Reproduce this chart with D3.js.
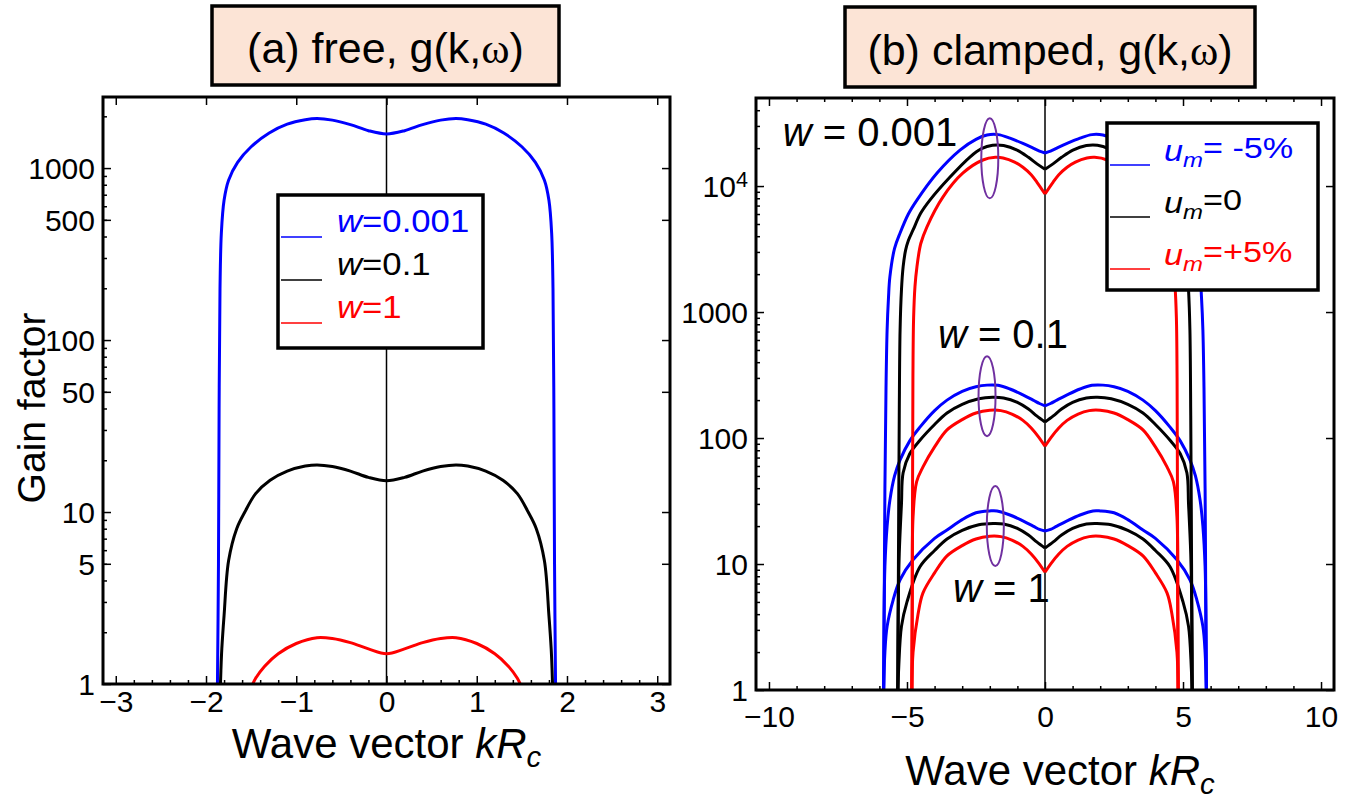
<!DOCTYPE html>
<html><head><meta charset="utf-8">
<script src="https://cdn.jsdelivr.net/npm/d3@7"></script>
<style>
body{margin:0;background:#fff}
svg{display:block}
text{font-family:"Liberation Sans",Arial,sans-serif;fill:#000}
</style>
</head><body>
<svg id="chart" width="1364" height="803"></svg>
<script>
// ---------------- DATA ----------------
// Panel (a) free: wave vector k and gain g for each w
const freeK_w0001 = [-1.875,-1.862,-1.855,-1.845,-1.83,-1.8,-1.75,-1.65,-1.5,-1.3,-1.1,-0.9,-0.77,-0.6,-0.4,-0.2,0,0.2,0.4,0.6,0.77,0.9,1.1,1.3,1.5,1.65,1.75,1.8,1.83,1.845,1.855,1.862,1.875];
const freeG_w0001 = [0.8,5,40,200,420,650,850,1080,1330,1600,1800,1910,1940,1900,1790,1650,1580,1650,1790,1900,1940,1910,1800,1600,1330,1080,850,650,420,200,40,5,0.8];
const freeK_w01 = [-1.845,-1.835,-1.825,-1.8,-1.75,-1.66,-1.57,-1.45,-1.29,-1.1,-0.9,-0.77,-0.6,-0.4,-0.2,0,0.2,0.4,0.6,0.77,0.9,1.1,1.29,1.45,1.57,1.66,1.75,1.8,1.825,1.835,1.845];
const freeG_w01 = [0.8,1.2,1.6,2.5,5.2,8,10,12.8,15.3,17.3,18.5,18.8,18.4,17.3,15.9,15.2,15.9,17.3,18.4,18.8,18.5,17.3,15.3,12.8,10,8,5.2,2.5,1.6,1.2,0.8];
const freeK_w1 = [-1.52,-1.45,-1.35,-1.2,-1.0,-0.77,-0.6,-0.4,-0.2,0,0.2,0.4,0.6,0.77,1.0,1.2,1.35,1.45,1.52];
const freeG_w1 = [0.9,1.08,1.27,1.5,1.72,1.86,1.84,1.74,1.6,1.5,1.6,1.74,1.84,1.86,1.72,1.5,1.27,1.08,0.9];
const freeLegend = ["0.001","0.1","1"];

// Panel (b) clamped: w = 0.001 family
const clK_w0001_m = [-5.85,-5.83,-5.8,-5.76,-5.72,-5.67,-5.62,-5.45,-5.25,-4.95,-4.64,-3.91,-3.08,-2.5,-2.1,-1.7,-1.27,-0.8,-0.43,-0.2,0,0.2,0.43,0.8,1.27,1.7,2.1,2.5,3.08,3.91,4.64,4.95,5.25,5.45,5.62,5.67,5.72,5.76,5.8,5.83,5.85];
const clG_w0001_m = [0.8,3,40,250,720,1300,1900,3200,4240,6000,7740,12700,19300,23500,25400,25600,24000,21800,20000,18900,18300,18900,20000,21800,24000,25600,25400,23500,19300,12700,7740,6000,4240,3200,1900,1300,720,250,40,3,0.8];
const clK_w0001_0 = [-5.33,-5.31,-5.28,-5.25,-5.2,-5.14,-5.05,-4.95,-4.78,-4.5,-4.17,-3.44,-2.72,-2.3,-1.9,-1.5,-1.01,-0.6,-0.29,0,0.29,0.6,1.01,1.5,1.9,2.3,2.72,3.44,4.17,4.5,4.78,4.95,5.05,5.14,5.2,5.25,5.28,5.31,5.33];
const clG_w0001_0 = [0.8,10,150,720,1500,2280,3100,3700,4480,6100,7740,11800,17000,19800,21100,21000,19300,16900,15000,13600,15000,16900,19300,21000,21100,19800,17000,11800,7740,6100,4480,3700,3100,2280,1500,720,150,10,0.8];
const clK_w0001_p = [-4.82,-4.8,-4.785,-4.76,-4.71,-4.64,-4.5,-4.28,-3.7,-2.97,-2.25,-1.8,-1.52,-1.1,-0.8,-0.5,-0.29,0,0.29,0.5,0.8,1.1,1.52,1.8,2.25,2.97,3.7,4.28,4.5,4.64,4.71,4.76,4.785,4.8,4.82];
const clG_w0001_p = [0.8,30,300,900,1600,2280,3500,4730,8180,12700,16100,16900,16700,15500,14100,12300,10700,8650,10700,12300,14100,15500,16700,16900,16100,12700,8180,4730,3500,2280,1600,900,300,30,0.8];
// w = 0.1 family
const clK_w01_m = [-5.85,-5.83,-5.8,-5.72,-5.62,-5.45,-5.25,-4.9,-4.53,-4.0,-3.55,-3.0,-2.5,-2.1,-1.7,-1.27,-0.8,-0.43,-0.2,0,0.2,0.43,0.8,1.27,1.7,2.1,2.5,3.0,3.55,4.0,4.53,4.9,5.25,5.45,5.62,5.72,5.8,5.83,5.85];
const clG_w01_m = [0.8,4,9.5,20,32,50,67,95,122,165,200,235,255,263,262,245,220,200,188,180,188,200,220,245,262,263,255,235,200,165,122,95,67,50,32,20,9.5,4,0.8];
const clK_w01_0 = [-5.34,-5.32,-5.28,-5.2,-5.14,-4.9,-4.53,-4.0,-3.55,-3.0,-2.4,-1.9,-1.5,-1.0,-0.6,-0.3,0,0.3,0.6,1.0,1.5,1.9,2.4,3.0,3.55,4.0,4.53,4.9,5.14,5.2,5.28,5.32,5.34];
const clG_w01_0 = [0.8,4,12,30,53,75,96,128,158,185,205,211,208,192,170,150,134,150,170,192,208,211,205,185,158,128,96,75,53,30,12,4,0.8];
const clK_w01_p = [-4.83,-4.81,-4.78,-4.65,-4.42,-4.0,-3.55,-3.0,-2.5,-2.0,-1.6,-1.2,-0.8,-0.5,-0.25,0,0.25,0.5,0.8,1.2,1.6,2.0,2.5,3.0,3.55,4.0,4.42,4.65,4.78,4.81,4.83];
const clG_w01_p = [0.8,5,23.6,45,59,85,116,140,158,166,165,155,138,120,103,86,103,120,138,155,165,166,158,140,116,85,59,45,23.6,5,0.8];
// w = 1 family
const clK_w1_m = [-5.85,-5.8,-5.72,-5.5,-5.25,-4.78,-4.0,-3.55,-3.0,-2.5,-2.0,-1.74,-1.27,-0.8,-0.43,-0.2,0,0.2,0.43,0.8,1.27,1.74,2.0,2.5,3.0,3.55,4.0,4.78,5.25,5.5,5.72,5.8,5.85];
const clG_w1_m = [0.8,2,3.2,5.2,7.5,10.8,16,18.6,22.5,25.5,26.4,26.4,24.5,22,20,18.8,18.3,18.8,20,22,24.5,26.4,26.4,25.5,22.5,18.6,16,10.8,7.5,5.2,3.2,2,0.8];
const clK_w1_0 = [-5.34,-5.3,-5.2,-5.0,-4.53,-4.0,-3.55,-3.0,-2.4,-1.88,-1.5,-1.0,-0.6,-0.3,0,0.3,0.6,1.0,1.5,1.88,2.4,3.0,3.55,4.0,4.53,5.0,5.2,5.3,5.34];
const clG_w1_0 = [0.8,1.5,3.2,5,9.5,12.8,15.8,18.5,20.5,21,20.8,19.2,17,15,13.4,15,17,19.2,20.8,21,20.5,18.5,15.8,12.8,9.5,5,3.2,1.5,0.8];
const clK_w1_p = [-4.83,-4.78,-4.6,-4.42,-4.0,-3.55,-3.0,-2.5,-2.0,-1.6,-1.2,-0.8,-0.5,-0.25,0,0.25,0.5,0.8,1.2,1.6,2.0,2.5,3.0,3.55,4.0,4.42,4.6,4.78,4.83];
const clG_w1_p = [0.8,2,4,5.9,8.5,11.6,14,15.8,16.6,16.5,15.5,13.8,12,10.3,8.6,10.3,12,13.8,15.5,16.5,16.6,15.8,14,11.6,8.5,5.9,4,2,0.8];
const clampedLegend = ["= -5%","=0","=+5%"];
// annotation anchors (k, g)
const wLabels = [{t:" = 0.001",k:-9.5,g:20800},{t:" = 0.1",k:-3.88,g:518},{t:" = 1",k:-3.33,g:5.0}];
const ellipses = [{k:-2.0,g:16600},{k:-2.1,g:215},{k:-1.8,g:20}];

// ticks
const freeXTicks = [-3,-2,-1,0,1,2,3];
const freeYTicks = [1,5,10,50,100,500,1000];
const clXTicks = [-10,-5,0,5,10];
const clYTicks = [1,10,100,1000,10000];

// ---------------- DRAW ----------------
const svg = d3.select("#chart");
const BLUE="#0000ff", RED="#ff0000", BLK="#000000";
const FONT="Liberation Sans, Arial, sans-serif";

function minorLog(max){const a=[];for(let d=1;d<=max;d*=10){for(let m=2;m<=9;m++){if(d*m<max)a.push(d*m);}}return a;}

function panel(o){
  const g = svg.append("g");
  const x = d3.scaleLinear().domain(o.xdom).range([o.x0,o.x1]);
  const y = d3.scaleLog().domain(o.ydom).range([o.y1,o.y0]);
  const clipId = "clip"+o.id;
  svg.append("clipPath").attr("id",clipId).append("rect")
    .attr("x",o.x0).attr("y",o.y0).attr("width",o.x1-o.x0).attr("height",o.y1-o.y0);

  g.append("line").attr("x1",x(0)).attr("x2",x(0)).attr("y1",o.y0).attr("y2",o.y1)
    .attr("stroke","#000").attr("stroke-width",1.5);

  const plot = g.append("g").attr("clip-path",`url(#${clipId})`);
  const line = d3.line().x(d=>x(d[0])).y(d=>y(d[1])).curve(d3.curveCatmullRom.alpha(0.5));
  o.series.forEach(s=>{
    const pts = s.k.map((k,i)=>[k,s.g[i]]);
    const parts = o.split ? [pts.filter(p=>p[0]<=0), pts.filter(p=>p[0]>=0)] : [pts];
    parts.forEach(p=>{
      plot.append("path").attr("d",line(p)).attr("fill","none")
        .attr("stroke",s.c).attr("stroke-width",3).attr("stroke-linejoin","round");
    });
  });

  const fs = o.tickFont;
  const ax = g.append("g").attr("transform",`translate(0,${o.y1})`)
    .call(d3.axisBottom(x).tickValues(o.xt).tickSizeInner(-8).tickSizeOuter(0).tickPadding(o.xPad).tickFormat(d3.format("d")));
  g.append("g").attr("transform",`translate(0,${o.y1})`)
    .call(d3.axisBottom(x).tickValues(o.xminor).tickSizeInner(-4).tickSizeOuter(0).tickFormat(""));
  g.append("g").attr("transform",`translate(0,${o.y0})`)
    .call(d3.axisTop(x).tickValues(o.xt).tickSizeInner(-8).tickSizeOuter(0).tickFormat(""));
  if(o.topMinor) g.append("g").attr("transform",`translate(0,${o.y0})`)
    .call(d3.axisTop(x).tickValues(o.xminor).tickSizeInner(-4).tickSizeOuter(0).tickFormat(""));
  const ay = g.append("g").attr("transform",`translate(${o.x0},0)`)
    .call(d3.axisLeft(y).tickValues(o.yt).tickSizeInner(-8).tickSizeOuter(0).tickPadding(8).tickFormat(d=>d>=10000?"":String(d)));
  g.append("g").attr("transform",`translate(${o.x0},0)`)
    .call(d3.axisLeft(y).tickValues(minorLog(o.ydom[1])).tickSizeInner(-4).tickSizeOuter(0).tickFormat(""));
  g.append("g").attr("transform",`translate(${o.x1},0)`)
    .call(d3.axisRight(y).tickValues(o.yt).tickSizeInner(-8).tickSizeOuter(0).tickFormat(""));
  g.selectAll(".domain").remove();
  g.selectAll(".tick line").attr("stroke","#000").attr("stroke-width",1.5);
  ax.selectAll("text").attr("font-size",fs).attr("font-family",FONT).attr("fill","#000");
  ay.selectAll("text").attr("font-size",fs).attr("font-family",FONT).attr("fill","#000").attr("dy","0.35em");
  ay.selectAll(".tick").filter(d=>d>=10000).select("text").each(function(){
    const t=d3.select(this);
    t.append("tspan").text("10");
    t.append("tspan").attr("dy","-0.45em").attr("font-size",fs*0.72).text("4");
  });

  g.append("rect").attr("x",o.x0).attr("y",o.y0).attr("width",o.x1-o.x0).attr("height",o.y1-o.y0)
    .attr("fill","none").attr("stroke","#000").attr("stroke-width",3);

  const xt = g.append("text").attr("x",(o.x0+o.x1)/2+o.xTitleDx).attr("y",o.xTitleY).attr("text-anchor","middle").attr("font-size",o.titleFont);
  xt.append("tspan").text("Wave vector ");
  xt.append("tspan").attr("font-style","italic").text("kR");
  xt.append("tspan").attr("font-style","italic").attr("font-size",o.titleFont*0.7).attr("dy","0.3em").text("c");

  const tb = g.append("g");
  tb.append("rect").attr("x",o.box[0]).attr("y",o.box[1]).attr("width",o.box[2]-o.box[0]).attr("height",o.box[3]-o.box[1])
    .attr("fill","#fce4d6").attr("stroke","#000").attr("stroke-width",3.5);
  const tt = tb.append("text").attr("x",(o.box[0]+o.box[2])/2).attr("y",o.box[3]-22).attr("text-anchor","middle").attr("font-size",43);
  tt.append("tspan").text(o.title+", g(k,");
  tt.append("tspan").attr("font-family","Liberation Serif, serif").text("ω");
  tt.append("tspan").text(")");
  return {g,x,y};
}

const freeMinor = d3.range(-15,16).map(i=>i/5).filter(v=>Math.abs(v-Math.round(v))>1e-9);
const A = panel({id:"a", xdom:[-Math.PI,Math.PI], ydom:[1,2590], x0:103,x1:670,y0:97,y1:684,
  xt:freeXTicks, xminor:freeMinor, yt:freeYTicks, tickFont:30, titleFont:42, xTitleY:758, xTitleDx:0, xPad:7,
  box:[212,6,559,85], title:"(a) free", split:false, topMinor:false,
  series:[{k:freeK_w0001,g:freeG_w0001,c:BLUE},{k:freeK_w01,g:freeG_w01,c:BLK},{k:freeK_w1,g:freeG_w1,c:RED}]});

const clMinor = d3.range(-10,11).filter(v=>v%5!==0);
const B = panel({id:"b", xdom:[-10.47,10.47], ydom:[1,50000], x0:756,x1:1334,y0:98,y1:690,
  xt:clXTicks, xminor:clMinor, yt:clYTicks, tickFont:30, titleFont:42, xTitleY:785, xTitleDx:15, xPad:16,
  box:[845,7,1255,87], title:"(b) clamped", split:true, topMinor:true,
  series:[
    {k:clK_w1_m,g:clG_w1_m,c:BLUE},{k:clK_w1_0,g:clG_w1_0,c:BLK},{k:clK_w1_p,g:clG_w1_p,c:RED},
    {k:clK_w01_m,g:clG_w01_m,c:BLUE},{k:clK_w01_0,g:clG_w01_0,c:BLK},{k:clK_w01_p,g:clG_w01_p,c:RED},
    {k:clK_w0001_m,g:clG_w0001_m,c:BLUE},{k:clK_w0001_0,g:clG_w0001_0,c:BLK},{k:clK_w0001_p,g:clG_w0001_p,c:RED}]});

svg.append("text").attr("transform","translate(45,408) rotate(-90)").attr("text-anchor","middle")
  .attr("font-size",39).text("Gain factor");

const COLS=[BLUE,BLK,RED];
// legend (a)
const la = svg.append("g");
la.append("rect").attr("x",278).attr("y",195).attr("width",205).attr("height",153).attr("fill","#fff").attr("stroke","#000").attr("stroke-width",3.5);
freeLegend.forEach((v,i)=>{
  const ly = 237 + i*43;
  la.append("line").attr("x1",281).attr("x2",322).attr("y1",ly).attr("y2",ly).attr("stroke",COLS[i]).attr("stroke-width",1.5);
  const t = la.append("text").attr("transform",`translate(337,${ly-5}) scale(1.12,1)`).attr("font-size",31).style("fill",COLS[i]);
  t.append("tspan").attr("font-style","italic").style("fill",COLS[i]).text("w");
  t.append("tspan").style("fill",COLS[i]).text("="+v);
});

// legend (b)
const lb = svg.append("g");
lb.append("rect").attr("x",1107).attr("y",123).attr("width",211).attr("height",167).attr("fill","#fff").attr("stroke","#000").attr("stroke-width",3.5);
clampedLegend.forEach((v,i)=>{
  const ly = 165 + i*52;
  lb.append("line").attr("x1",1110).attr("x2",1150).attr("y1",ly).attr("y2",ly).attr("stroke",COLS[i]).attr("stroke-width",1.5);
  const t = lb.append("text").attr("transform",`translate(1164,${ly-4}) scale(1.14,1)`).attr("font-size",30).style("fill",COLS[i]);
  t.append("tspan").attr("font-style","italic").style("fill",COLS[i]).text("u");
  t.append("tspan").attr("font-style","italic").attr("font-size",21).attr("dy","0.3em").style("fill",COLS[i]).text("m");
  t.append("tspan").attr("dy","-0.3em").style("fill",COLS[i]).text(v);
});

// annotations (b)
wLabels.forEach(d=>{
  const t = svg.append("text").attr("x",B.x(d.k)).attr("y",B.y(d.g)).attr("font-size",40);
  t.append("tspan").attr("font-style","italic").text("w");
  t.append("tspan").text(d.t);
});
ellipses.forEach(d=>{
  svg.append("ellipse").attr("cx",B.x(d.k)).attr("cy",B.y(d.g)).attr("rx",8.5).attr("ry",40)
    .attr("fill","none").attr("stroke","#7030a0").attr("stroke-width",2);
});
</script>
</body></html>
